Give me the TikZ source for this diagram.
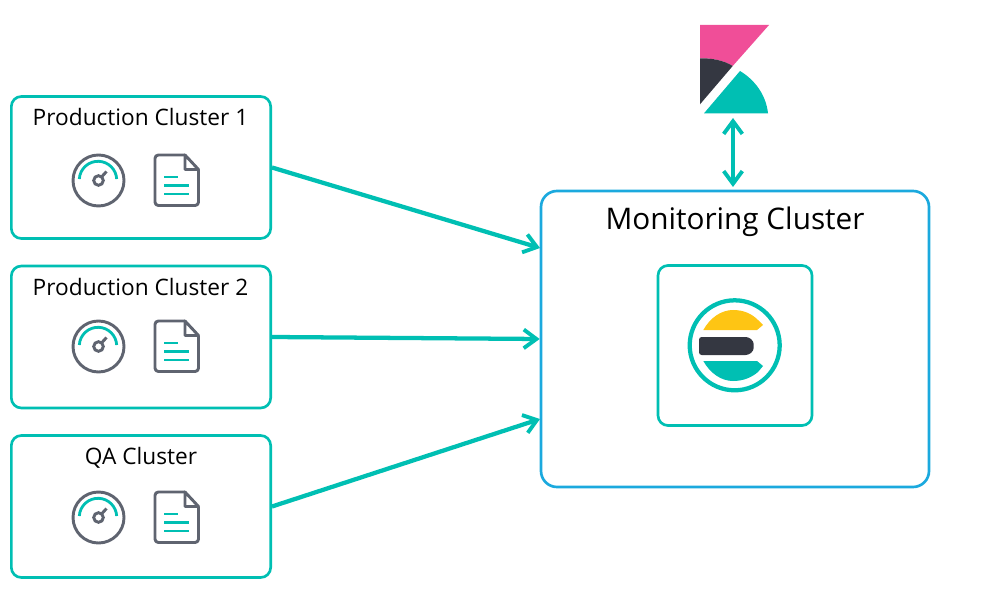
\documentclass[tikz,border=0pt]{standalone}
\usepackage{fontspec}
\setmainfont{Open Sans}
\usetikzlibrary{arrows.meta}
\definecolor{tealc}{HTML}{00BFB3}
\definecolor{bluec}{HTML}{1BA9DE}
\definecolor{grayc}{HTML}{5F6470}
\definecolor{darkc}{HTML}{343741}
\definecolor{pinkc}{HTML}{F04E98}
\definecolor{yellowc}{HTML}{FEC514}
\tikzset{
  clusterbox/.style={draw=tealc, line width=2pt, rounded corners=7.5, inner sep=0pt, minimum width=194.5pt, minimum height=106.5pt},
  monbox/.style={draw=bluec, line width=2pt, rounded corners=12, inner sep=0pt, minimum width=291pt, minimum height=222pt},
  esbox/.style={draw=tealc, line width=2pt, rounded corners=7.5, inner sep=0pt, minimum width=115.5pt, minimum height=120pt},
  clustertext/.style={font=\fontsize{17pt}{19pt}\selectfont, text=black, inner sep=0pt},
  flow/.style={draw=tealc, line width=3.2pt, -{Straight Barb[length=9.5pt,width=14pt,line width=2.9pt]}},
  icons/.pic={
    % gauge
    \draw[grayc, line width=2.2pt] (0.5,0.5) circle (25.5);
    \draw[tealc, line width=2.1pt] (183:18.7) arc (183:357:18.7);
    \draw[grayc, line width=2.2pt] (0.5,0.5) circle (4.8);
    \draw[grayc, line width=2.2pt] (3.5,-3) -- (8.5,-8.5);
    % page
    \draw[grayc, line width=2.2pt, rounded corners=2.5, line join=round] (87,-25) -- (57,-25) -- (57,25.5) -- (100.5,25.5) -- (100.5,-10.5);
    \draw[grayc, line width=2.2pt, line join=round] (87,-25) -- (100.5,-10.5) -- (87,-10.5) -- cycle;
    \draw[tealc, line width=1.9pt] (66,-3) -- (80,-3) (66,5.5) -- (91,5.5) (66,14) -- (91,14);
  }
}
\begin{document}
\begin{tikzpicture}[x=0.75pt, y=-0.75pt]
\useasboundingbox (0,0) rectangle (991,609);

% the three clusters on the left
\node[clusterbox] (prod1) at (141,167.5) {};
\node[clusterbox] (prod2) at (141,337) {};
\node[clusterbox] (qa) at (141,506.5) {};
\node[clustertext] (prod1text) at (140.5,117) {Production Cluster 1};
\node[clustertext] (prod2text) at (140.5,287) {Production Cluster 2};
\node[clustertext] (qatext) at (141,457.5) {QA Cluster};
\pic at (98,180) {icons};
\pic at (98,346) {icons};
\pic at (98,517) {icons};

% the monitoring cluster
\node[monbox] (mon) at (735,339) {};
\node[clustertext, font=\fontsize{22.3pt}{26pt}\selectfont] (montext) at (735,222) {Monitoring Cluster};
\node[esbox] (es) at (735,345.5) {};

% the elastic mark
\draw[tealc, line width=3.2pt] (734.7,345.3) circle (45);
\fill[yellowc] (703.3,330) .. controls (710,318) and (721,310) .. (733,310) .. controls (744,310) and (752,314) .. (758,320) -- (763,325) -- (757,330) -- cycle;
\fill[darkc, rounded corners=2] (699,337) -- (743,337) .. controls (750,337) and (753.5,341) .. (753.5,346) .. controls (753.5,351) and (750,355) .. (743,355) -- (699,355) -- cycle;
\fill[tealc] (703.3,361) .. controls (710,373) and (721,381) .. (733,381) .. controls (744,381) and (752,377) .. (758,372) -- (763,366) -- (757,361) -- cycle;

% the kibana mark
\fill[pinkc] (700,25) -- (769,25) -- (732.7,66) .. controls (724,60.5) and (712,58) .. (700,58.3) -- cycle;
\fill[darkc] (700,58.3) .. controls (712,58) and (724,60.5) .. (732.7,66) -- (700,104.3) -- cycle;
\fill[tealc] (740,71) .. controls (755,80) and (766,95) .. (768,113.3) -- (704,113.3) -- cycle;

% arrows
\coordinate (in1) at (540,248);
\coordinate (in3) at (540,419);
\coordinate (kibana) at (733,118);
\coordinate (montop) at (733,187);
\draw[flow] (prod1.east) -- (in1);
\draw[flow] (prod2.east) -- (mon.west);
\draw[flow] (qa.east) -- (in3);
\draw[flow, {Straight Barb[length=9.5pt,width=14pt,line width=2.9pt]}-{Straight Barb[length=9.5pt,width=14pt,line width=2.9pt]}] (kibana) -- (montop);
\end{tikzpicture}
\end{document}
